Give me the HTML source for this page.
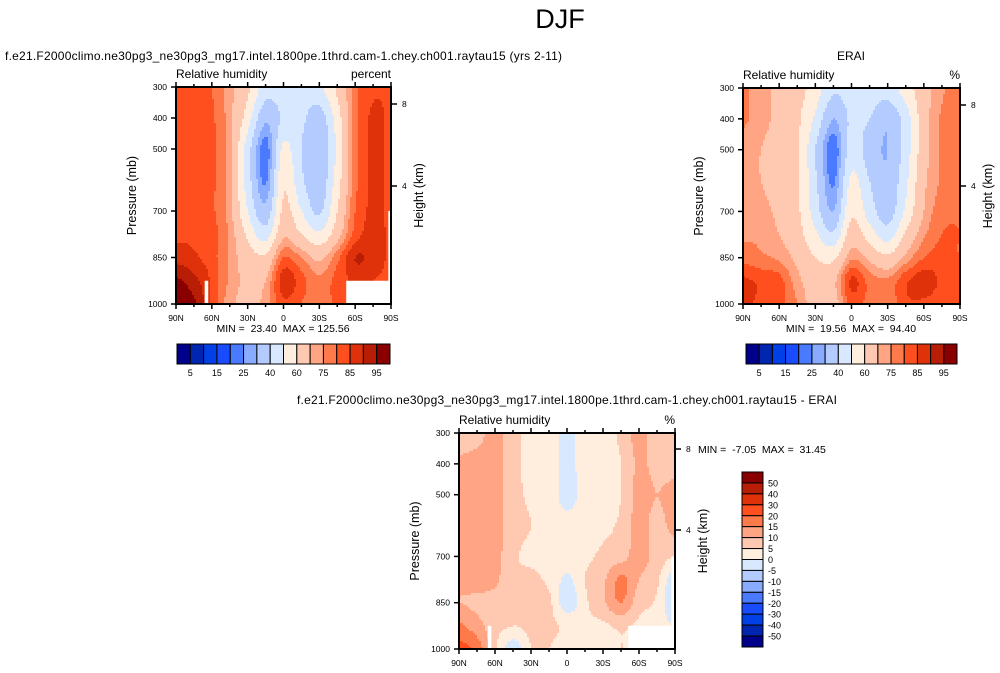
<!DOCTYPE html>
<html><head><meta charset="utf-8"><style>
body{margin:0;background:#fff;}
svg{display:block;font-family:"Liberation Sans",Arial,sans-serif;}
</style></head><body>
<svg id="chart" width="1000" height="673" viewBox="0 0 1000 673">
<text x="560" y="28" font-size="27" text-anchor="middle">DJF</text>
<g id="panels"></g>
</svg>
<script>
// ---- data ----
const lats = ["90N","75N","60N","45N","30N","15N","0","15S","30S","45S","60S","75S","90S"];
const pressures = [300,400,500,600,700,775,850,925,1000];
const rhLevels = [5,10,15,20,25,30,40,50,60,70,75,80,85,90,95];
const diffLevels = [-50,-40,-30,-20,-15,-10,-5,0,5,10,15,20,30,40,50];
const rhLabels = ["5","15","25","40","60","75","85","95"];
const diffLabels = ["50","40","30","20","15","10","5","0","-5","-10","-15","-20","-30","-40","-50"];
const xTickLabels = ["90N","60N","30N","0","30S","60S","90S"];
const pTickLabels = [300,400,500,700,850,1000];
const palette = ["#00008a","#0026b0","#0040e6","#1a4cff","#4a7aff","#88aaff","#b4cbff","#d8e8ff","#ffeedd","#ffc8b0","#ffa584","#ff7a4a","#ff4f1f","#e0320a","#b81e06","#8a0000"];
const modelRH = [
 [82,82,80,72,62,45,45,45,48,62,78,84,84],
 [83,83,81,72,55,32,42,42,35,55,78,86,84],
 [83,83,81,72,45,22,52,40,32,52,78,86,84],
 [83,83,81,72,45,24,58,42,33,55,78,86,84],
 [83,83,81,72,50,33,62,50,38,60,80,86,84],
 [84,84,82,74,58,45,68,60,52,66,82,87,84],
 [88,86,82,74,65,62,80,75,68,78,90,88,84],
 [96,92,84,74,68,70,88,82,76,82,86,85,84],
 [97,96,84,72,68,72,84,80,76,82,84,84,84]];
const eraiRH = [
 [76,72,68,64,55,42,45,45,45,55,66,74,78],
 [76,72,68,62,48,30,42,40,32,45,66,76,80],
 [72,70,66,62,40,21,45,35,30,45,66,76,78],
 [72,70,66,62,42,24,52,40,32,48,68,76,80],
 [72,72,68,62,45,30,58,45,35,52,70,78,80],
 [74,74,70,64,52,42,65,55,45,62,74,80,80],
 [78,76,74,68,60,58,74,68,62,72,80,82,80],
 [86,84,82,72,66,68,86,78,76,84,88,84,82],
 [86,84,82,75,66,66,82,78,76,84,84,82,82]];
const diffRH = [
 [7,8,12,7,3,3,-2,3,3,6,12,7,7],
 [11,12,12,7,3,3,-2,3,3,5,11,8,8],
 [12,12,12,7,4,3,-2,2,3,5,12,10,12],
 [12,12,12,7,5,3,2,3,4,6,12,8,12],
 [12,12,12,6,4,3,3,4,6,8,12,8,5],
 [12,12,11,6,6,4,-1,5,9,16,10,6,-4],
 [10,9,8,6,5,6,-3,4,9,15,7,4,-6],
 [16,12,7,5,6,6,4,4,4,6,4,2,0],
 [22,18,6,-3,5,5,3,3,2,5,3,0,0]];

const NS="http://www.w3.org/2000/svg";
const root=document.getElementById('panels');
function mk(tag,attrs,parent,text){const e=document.createElementNS(NS,tag);for(const k in attrs)e.setAttribute(k,attrs[k]);if(text!==undefined)e.textContent=text;(parent||root).appendChild(e);return e;}
function colorIdx(v,levels){let i=0;while(i<levels.length&&v>=levels[i])i++;return i;}
function cr(p0,p1,p2,p3,t){return 0.5*((2*p1)+(-p0+p2)*t+(2*p0-5*p1+4*p2-p3)*t*t+(-p0+3*p1-3*p2+p3)*t*t*t);}
function rowAt(row,fx){
  const n=row.length;const c=Math.min(n-2,Math.max(0,Math.floor(fx)));const t=fx-c;
  const g=i=>row[Math.max(0,Math.min(n-1,i))];
  return cr(g(c-1),g(c),g(c+1),g(c+2),t);
}
function sample(grid,fx,p){
  let r=0;while(r<pressures.length-2&&p>pressures[r+1])r++;
  const ty=Math.max(0,Math.min(1,(p-pressures[r])/(pressures[r+1]-pressures[r])));
  const n=pressures.length;const g=i=>rowAt(grid[Math.max(0,Math.min(n-1,i))],fx);
  return cr(g(r-1),g(r),g(r+1),g(r+2),ty);
}
function panel(cfg){
  const g=mk('g',{});
  
  
  const {x0,x1,y0,y1}=cfg;
  const xs=lat=>x0+(lat/(lats.length-1))*(x1-x0);
  const ys=p=>y0+(p-300)/700*(y1-y0);
  const field=mk('g',{},g);
  
  
  const st=2;
  for(let y=y0;y<y1;y+=st){
    const p=300+((y+st/2-y0)/(y1-y0))*700;
    let runStart=x0,runC=-1;
    for(let x=x0;x<x1+st;x+=st){
      let c=-1;
      if(x<x1){const fx=(x+st/2-x0)/(x1-x0)*(lats.length-1);c=colorIdx(sample(cfg.grid,fx,p),cfg.levels);}
      if(c!==runC){
        if(runC>=0){const r=mk('rect',{x:runStart,y:y,width:Math.min(x,x1)-runStart+0.5,height:Math.min(st+0.5,y1-y),fill:palette[runC]},field);
          
          }
        runStart=x;runC=c;
      }
    }
  }
  (cfg.masks||[]).forEach(m=>{const r=mk('rect',{x:xs(m[0]),y:ys(m[2]),width:xs(m[1])-xs(m[0]),height:ys(1000)-ys(m[2]),fill:'#fff'},g);
    
    });
  mk('rect',{x:x0,y:y0,width:x1-x0,height:y1-y0,fill:'none',stroke:'#000','stroke-width':2},g);
  for(let i=0;i<=12;i++){const x=xs(i);const major=i%2===0;
    mk('line',{x1:x,x2:x,y1:y1,y2:y1+(major?5:3),stroke:'#000','stroke-width':1.5},g);
    mk('line',{x1:x,x2:x,y1:y0,y2:y0-(major?5:3),stroke:'#000','stroke-width':1.5},g);}
  xTickLabels.forEach((t,i)=>{const tx=mk('text',{x:xs(i*2),y:y1+17,'font-size':8.5,'text-anchor':'middle'},g,t);
    
    });
  pTickLabels.forEach(p=>{mk('line',{x1:x0-5,x2:x0,y1:ys(p),y2:ys(p),stroke:'#000','stroke-width':1.5},g);
    const tx=mk('text',{x:x0-9,y:ys(p)+3,'font-size':8.5,'text-anchor':'end'},g,p);
    
    });
  [[8,cfg.h8],[4,cfg.h4]].forEach(h=>{mk('line',{x1:x1,x2:x1+6,y1:h[1],y2:h[1],stroke:'#000','stroke-width':1.5},g);
    mk('text',{x:x1+11,y:h[1]+3,'font-size':8.5},g,h[0]);});
  const yt=mk('text',{x:0,y:0,'font-size':12.5,'text-anchor':'middle',transform:`translate(${x0-40},${(y0+y1)/2}) rotate(-90)`},g,'Pressure (mb)');
  
  
  const ht=mk('text',{x:0,y:0,'font-size':12.5,'text-anchor':'middle',transform:`translate(${x1+32},${(y0+y1)/2}) rotate(-90)`},g,'Height (km)');
  
  
  mk('text',{x:x0,y:y0-9,'font-size':12},g,'Relative humidity');
  mk('text',{x:x1,y:y0-9,'font-size':12,'text-anchor':'end'},g,cfg.unit);
  const tt=mk('text',cfg.titleAttrs,g,cfg.title);
  
  
  if(cfg.minmax){const mm=mk('text',cfg.minmax.attrs,g,cfg.minmax.text);
    
    }
}
function hbar(x0,x1,y0,y1){
  const g=mk('g',{});
  
  
  const w=(x1-x0)/palette.length;
  palette.forEach((c,i)=>{const r=mk('rect',{x:x0+i*w,y:y0,width:w,height:y1-y0,fill:c,stroke:'#000','stroke-width':1},g);
    
    });
  rhLabels.forEach((t,i)=>{mk('text',{x:x0+(1+2*i)*w,y:y1+12,'font-size':9,'text-anchor':'middle'},g,t);});
}
function vbar(x0,x1,y0,y1){
  const g=mk('g',{});
  
  
  const h=(y1-y0)/palette.length;
  palette.slice().reverse().forEach((c,i)=>{const r=mk('rect',{x:x0,y:y0+i*h,width:x1-x0,height:h,fill:c,stroke:'#000','stroke-width':1},g);
    
    });
  diffLabels.forEach((t,i)=>{mk('text',{x:x1+5,y:y0+(i+1)*h+3.5,'font-size':9},g,t);});
}
const S='\u00a0';
panel({name:'model-panel',x0:176,x1:391,y0:87,y1:304,grid:modelRH,levels:rhLevels,h8:104,h4:186,unit:'percent',
  masks:[[1.6,1.8,925],[9.5,12,925],[11.85,12,700]],
  title:'f.e21.F2000climo.ne30pg3_ne30pg3_mg17.intel.1800pe.1thrd.cam-1.chey.ch001.raytau15 (yrs 2-11)',
  titleAttrs:{x:5,y:60,'font-size':12,textLength:557},
  minmax:{text:'MIN ='+S+S+'23.40'+S+S+'MAX = 125.56',attrs:{x:283,y:332,'font-size':10.5,'text-anchor':'middle'}}});
panel({name:'erai-panel',x0:743,x1:960,y0:88,y1:304,grid:eraiRH,levels:rhLevels,h8:105,h4:186,unit:'%',
  title:'ERAI',titleAttrs:{x:851,y:60,'font-size':12,'text-anchor':'middle'},
  minmax:{text:'MIN ='+S+S+'19.56'+S+S+'MAX ='+S+S+'94.40',attrs:{x:851,y:332,'font-size':10.5,'text-anchor':'middle'}}});
panel({name:'difference-panel',x0:459,x1:675,y0:433,y1:649,grid:diffRH,levels:diffLevels,h8:449,h4:530,unit:'%',
  masks:[[1.6,1.8,925],[9.4,12,925],[11.8,12,700]],
  title:'f.e21.F2000climo.ne30pg3_ne30pg3_mg17.intel.1800pe.1thrd.cam-1.chey.ch001.raytau15 - ERAI',
  titleAttrs:{x:567,y:404,'font-size':12,'text-anchor':'middle',textLength:540},
  minmax:{text:'MIN ='+S+S+'-7.05'+S+S+'MAX ='+S+S+'31.45',attrs:{x:698,y:453,'font-size':10.5}}});
hbar(177,390,344,364);
hbar(746,957,344,364);
vbar(742,763,472,647);
</script>
</body></html>
